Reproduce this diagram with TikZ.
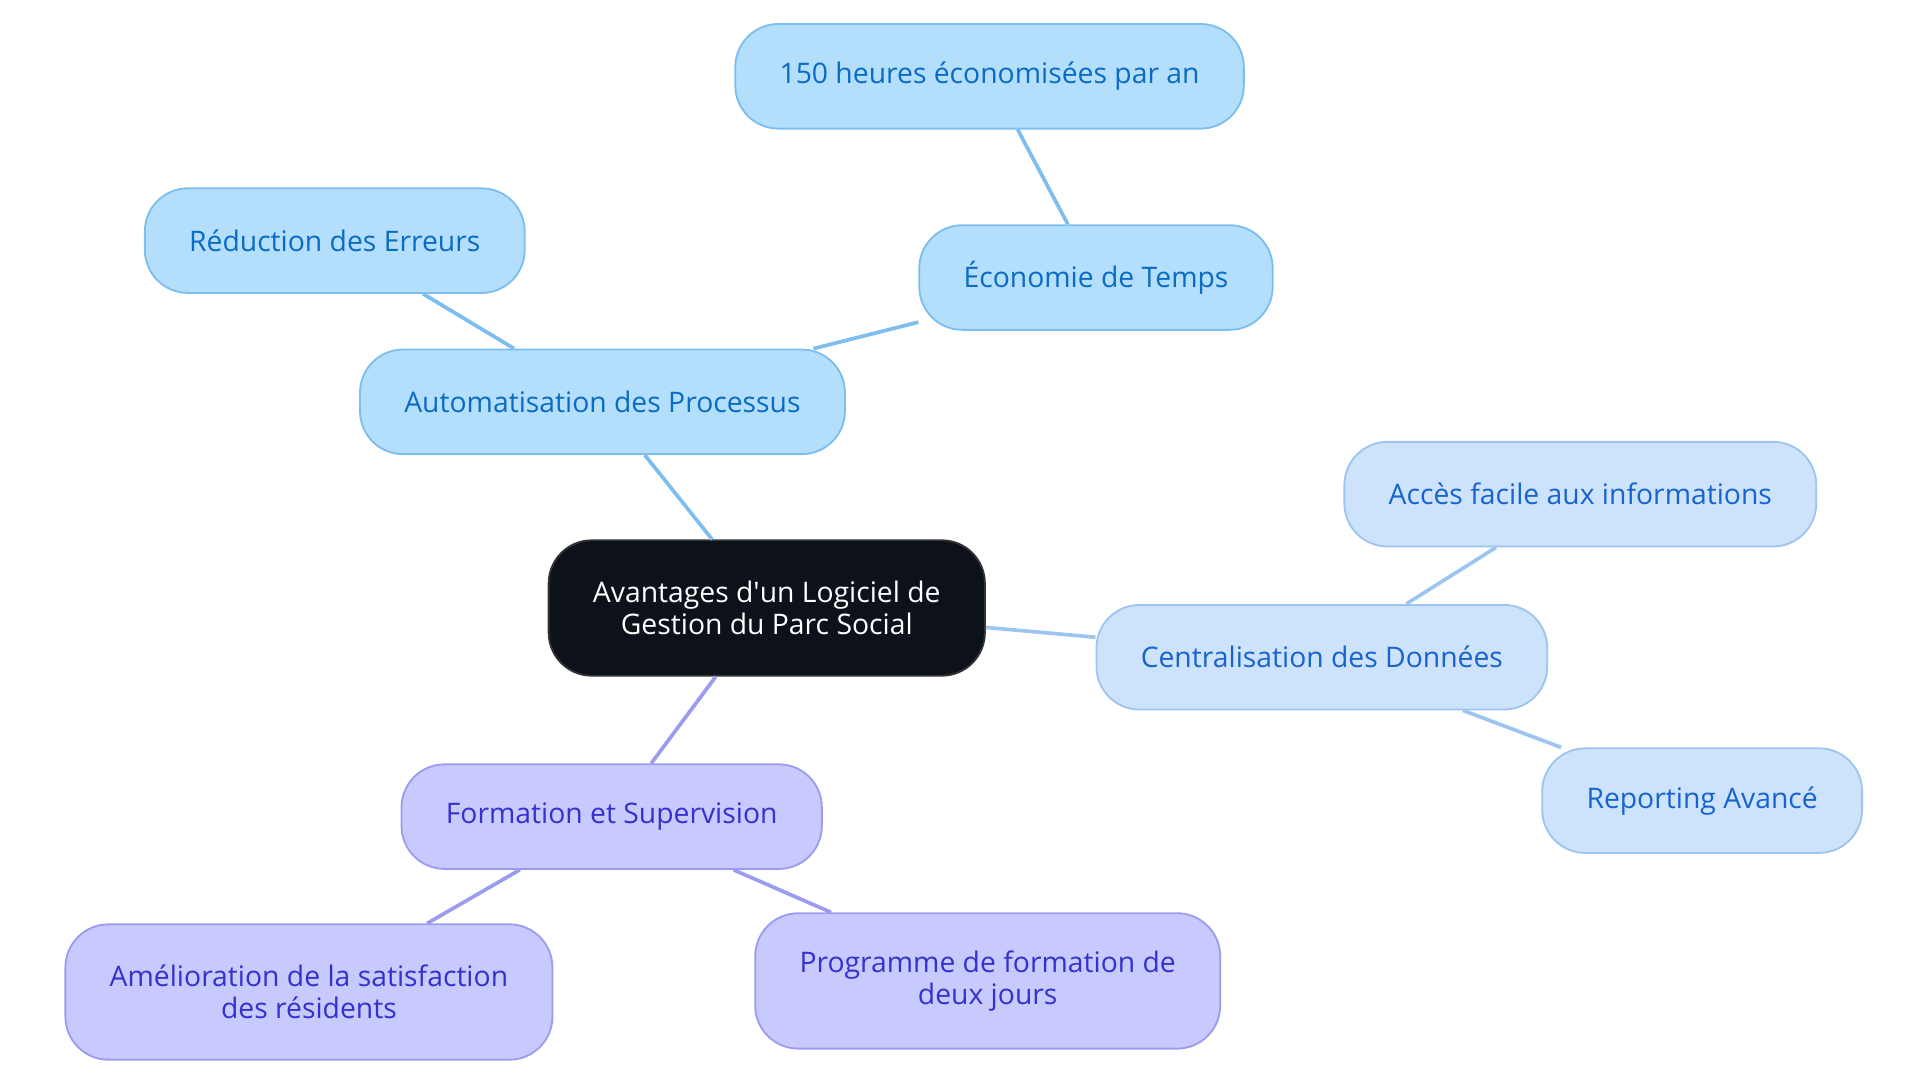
\documentclass[tikz,border=0pt]{standalone}
\usepackage{fontspec}
\setmainfont{Open Sans}
\definecolor{rootfill}{HTML}{0C111A}
\definecolor{bluefill}{HTML}{B3DEFC}
\definecolor{bluedraw}{HTML}{7DBEEE}
\definecolor{bluetext}{HTML}{0A6BC4}
\definecolor{skyfill}{HTML}{CCE3FB}
\definecolor{skydraw}{HTML}{9EC4F0}
\definecolor{skytext}{HTML}{1863CF}
\definecolor{lilafill}{HTML}{C8C9FD}
\definecolor{liladraw}{HTML}{9B9CF0}
\definecolor{lilatext}{HTML}{3531CE}

\begin{document}
\begin{tikzpicture}
[x=1pt,y=-1pt,every node/.style={rounded corners=35pt,inner xsep=36pt,align=center,
 font=\fontsize{23}{26}\selectfont,line width=1.5pt,minimum height=85pt}]
\useasboundingbox (0,0) rectangle (1560,880);
\node[fill=rootfill,draw=black!80,text=white,minimum height=110pt] (root) at (623,494) {Avantages d\textquotesingle un Logiciel de\\Gestion du Parc Social};
\node[fill=bluefill,draw=bluedraw,text=bluetext] (auto) at (489.5,326.5) {Automatisation des Processus};
\node[fill=bluefill,draw=bluedraw,text=bluetext] (err) at (272,195.5) {Réduction des Erreurs};
\node[fill=bluefill,draw=bluedraw,text=bluetext] (eco) at (890.5,225.5) {Économie de Temps};
\node[fill=bluefill,draw=bluedraw,text=bluetext] (heures) at (804,62) {150 heures économisées par an};
\node[fill=skyfill,draw=skydraw,text=skytext] (centr) at (1074,534) {Centralisation des Données};
\node[fill=skyfill,draw=skydraw,text=skytext] (acces) at (1284,401.5) {Accès facile aux informations};
\node[fill=skyfill,draw=skydraw,text=skytext] (report) at (1383,650.5) {Reporting Avancé};
\node[fill=lilafill,draw=liladraw,text=lilatext] (form) at (497,663.5) {Formation et Supervision};
\node[fill=lilafill,draw=liladraw,text=lilatext,minimum height=110pt] (amel) at (251,806) {Amélioration de la satisfaction\\des résidents};
\node[fill=lilafill,draw=liladraw,text=lilatext,minimum height=110pt] (prog) at (802.5,797) {Programme de formation de\\deux jours};
\foreach \from/\to in {root/auto,auto/err,auto/eco,eco/heures}
\draw[bluedraw,line width=3pt] (\from) -- (\to);
\foreach \from/\to in {root/centr,centr/acces,centr/report}
\draw[skydraw,line width=3pt] (\from) -- (\to);
\foreach \from/\to in {root/form,form/amel,form/prog}
\draw[liladraw,line width=3pt] (\from) -- (\to);
\end{tikzpicture}
\end{document}
